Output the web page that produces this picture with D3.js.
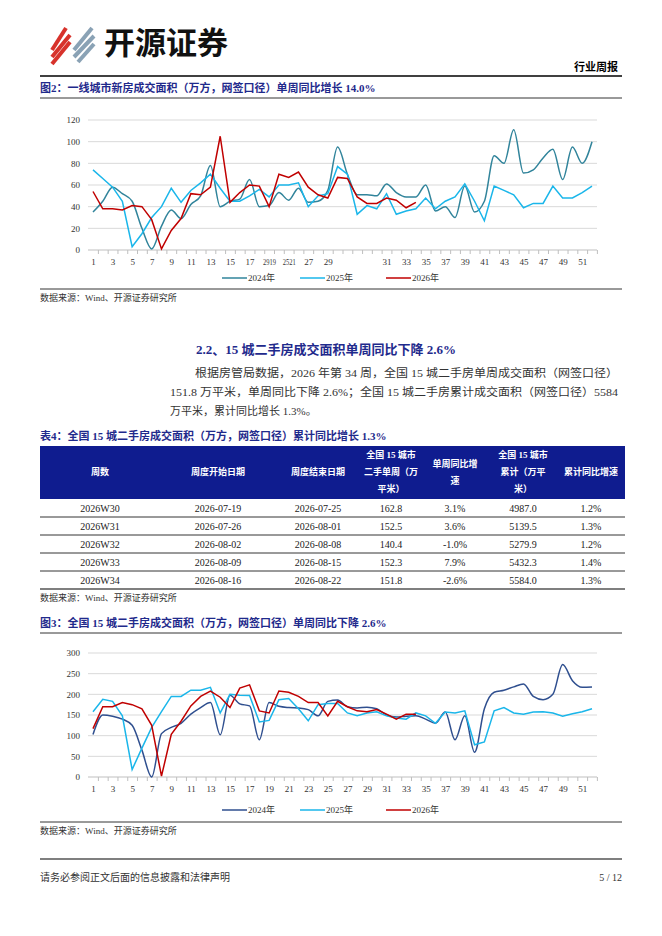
<!DOCTYPE HTML>
<html lang="zh">
<head>
<meta charset="utf-8" />
<title>行业周报</title>
<style>
  body { margin: 0; background: #fff; }
  text { font-family: "Liberation Serif", "Noto Sans CJK SC", serif; }
</style>
</head>
<body>
<div id="page"></div>
<script src="https://d3js.org/d3.v7.min.js"></script>
<script>
// ---- data ----
const weeks = d3.range(1, 53);
const xLabels1 = {1:"1",3:"3",5:"5",7:"7",9:"9",11:"11",13:"13",15:"15",17:"17",19:"2919",21:"2521",23:"27",25:"29",
  31:"31",33:"33",35:"35",37:"37",39:"39",41:"41",43:"43",45:"45",47:"47",49:"49",51:"51"};
const xLabels2 = {};
weeks.forEach(w => { if (w % 2 === 1) xLabels2[w] = String(w); });

const newHome2024 = [35,45,58,52,45,20,1,22,37,29,42,50,78,40,45,47,65,40,41,53,46,57,44,45,55,95,70,51,51,50,61,53,49,49,60,36,40,30,59,35,45,87,80,111,71,74,85,93,65,95,80,100];
const newHome2025 = [74,66,58,45,3,15,30,40,57,44,55,62,70,57,45,45,50,56,49,60,60,62,40,50,52,77,70,33,41,38,52,33,36,38,48,38,45,49,61,45,27,59,55,51,39,43,43,59,48,48,53,59];
const newHome2026 = [54,38,38,37,41,40,28,1,18,29,52,51,58,105,44,53,60,59,40,70,67,72,58,51,48,67,66,49,43,43,48,46,39,44];
const newTicks = [0,20,40,60,80,100,120];

const used2024 = [103,150,147,140,125,65,0,105,120,130,152,168,180,102,198,177,172,90,180,171,168,167,163,148,183,186,170,167,169,165,150,145,147,148,140,130,157,90,148,60,165,205,210,218,225,195,187,200,272,233,217,218];
const used2025 = [158,188,183,148,18,70,120,158,195,195,210,210,217,155,200,198,197,133,137,187,190,165,136,175,178,178,155,148,155,158,148,143,140,155,148,130,157,155,160,78,85,160,168,155,152,157,158,155,147,153,158,165];
const used2026 = [117,170,170,180,175,165,125,2,103,135,172,195,208,193,168,215,223,160,155,208,205,195,180,180,148,183,170,160,158,163,152,140,152,152];
const usedTicks = [0,50,100,150,200,250,300];

const tableHead = [["周数"],["周度开始日期"],["周度结束日期"],["全国 15 城市","二手单周（万","平米）"],["单周同比增","速"],["全国 15 城市","累计（万平","米）"],["累计同比增速"]];
const tableRows = [
  ["2026W30","2026-07-19","2026-07-25","162.8","3.1%","4987.0","1.2%"],
  ["2026W31","2026-07-26","2026-08-01","152.5","3.6%","5139.5","1.3%"],
  ["2026W32","2026-08-02","2026-08-08","140.4","-1.0%","5279.9","1.2%"],
  ["2026W33","2026-08-09","2026-08-15","152.3","7.9%","5432.3","1.4%"],
  ["2026W34","2026-08-16","2026-08-22","151.8","-2.6%","5584.0","1.3%"]
];

const titleBlue = "#1f2a8c";
const svg = d3.select("#page").append("svg").attr("width", 662).attr("height", 936);

// ---- header ----
const logo = svg.append("g");
[[52,50,66,28],[52,57,70,35],[52,64,70,42]].forEach((d, i) => {
  logo.append("path").attr("d", `M${d[0]},${d[1]} L${d[2]},${d[3]}`).attr("stroke", "#d7322b").attr("stroke-width", 4);
});
[[74,50,92,28],[74,57,94,36],[78,62,94,44]].forEach(d => {
  logo.append("path").attr("d", `M${d[0]},${d[1]} L${d[2]},${d[3]}`).attr("stroke", "#8aa2b5").attr("stroke-width", 4);
});
svg.append("text").attr("x", 104).attr("y", 54).attr("font-size", 31).attr("font-weight", "bold")
  .style("font-family", "Noto Sans CJK SC").attr("fill", "#111").text("开源证券");
svg.append("text").attr("x", 618).attr("y", 71).attr("text-anchor", "end").attr("font-size", 11).attr("font-weight", "bold").text("行业周报");
svg.append("line").attr("x1", 40).attr("x2", 622).attr("y1", 76).attr("y2", 76).attr("stroke", "#000").attr("stroke-width", 1.5);

function figTitle(y, txt) {
  svg.append("text").attr("x", 40).attr("y", y).attr("font-size", 11).attr("font-weight", "bold").attr("fill", titleBlue).text(txt);
}
function hr(y, w) {
  svg.append("line").attr("x1", 40).attr("x2", 622).attr("y1", y).attr("y2", y).attr("stroke", "#000").attr("stroke-width", w);
}
function source(y) {
  svg.append("text").attr("x", 40).attr("y", y).attr("font-size", 9).attr("fill", "#333").text("数据来源：Wind、开源证券研究所");
}

// ---- line chart ----
function lineChart(opts) {
  const x = d3.scalePoint().domain(weeks).range([93, 592]);
  const y = d3.scaleLinear().domain([0, d3.max(opts.ticks)]).range([opts.y0, opts.y1]);
  const g = svg.append("g");
  g.selectAll(".grid").data(opts.ticks.slice(1)).join("line")
    .attr("x1", 88).attr("x2", 597).attr("y1", d => y(d)).attr("y2", d => y(d)).attr("stroke", "#d9d9d9");
  g.append("g").attr("transform", `translate(80,0)`)
    .call(d3.axisLeft(y).tickValues(opts.ticks).tickSize(0).tickPadding(0))
    .call(a => a.select(".domain").remove())
    .selectAll("text").attr("font-size", 9).attr("fill", "#333");
  const xa = g.append("g").attr("transform", `translate(0,${opts.y0})`)
    .call(d3.axisBottom(x).tickSize(4).tickPadding(5).tickFormat(d => opts.labels[d] || ""));
  xa.select(".domain").attr("d", "M88,0H597").attr("stroke", "#bfbfbf");
  xa.selectAll(".tick line").attr("stroke", "#bfbfbf").attr("transform", `translate(${x.step() / 2},0)`);
  xa.selectAll("text").attr("font-size", 9).attr("fill", "#333")
    .each(function (d) { if ((opts.labels[d] || "").length === 4) d3.select(this).attr("textLength", 13).attr("lengthAdjust", "spacingAndGlyphs"); });
  opts.series.forEach(s => {
    const line = d3.line().x((d, i) => x(weeks[i])).y(d => y(d)).curve(s.smooth ? d3.curveMonotoneX : d3.curveLinear);
    g.append("path").datum(s.values).attr("d", line).attr("fill", "none").attr("stroke", s.color).attr("stroke-width", 1.5);
  });
  const lx = [222, 300, 386];
  opts.series.forEach((s, i) => {
    g.append("line").attr("x1", lx[i]).attr("x2", lx[i] + 25).attr("y1", opts.legendY - 3).attr("y2", opts.legendY - 3).attr("stroke", s.color).attr("stroke-width", 1.5);
    g.append("text").attr("x", lx[i] + 26).attr("y", opts.legendY).attr("font-size", 9).attr("fill", "#333").text(s.name);
  });
}

figTitle(92, "图2：一线城市新房成交面积（万方，网签口径）单周同比增长 14.0%");
hr(98, 0.8);
lineChart({ y0: 250, y1: 120, ticks: newTicks, labels: xLabels1, legendY: 281,
  series: [
    { name: "2024年", values: newHome2024, color: "#31849b", smooth: true },
    { name: "2025年", values: newHome2025, color: "#1ab6ea" },
    { name: "2026年", values: newHome2026, color: "#c00000" }
  ] });
hr(289, 0.8);
source(301);

// ---- section text ----
svg.append("text").attr("x", 196).attr("y", 354).attr("font-size", 13).attr("font-weight", "bold").attr("fill", titleBlue)
  .text("2.2、15 城二手房成交面积单周同比下降 2.6%");
const para = [
  [195, "根据房管局数据，2026 年第 34 周，全国 15 城二手房单周成交面积（网签口径）", 423],
  [170, "151.8 万平米，单周同比下降 2.6%；全国 15 城二手房累计成交面积（网签口径）5584", 448],
  [170, "万平米，累计同比增长 1.3%。", 0]
];
para.forEach((p, i) => {
  const t = svg.append("text").attr("x", p[0]).attr("y", 377 + i * 19).attr("font-size", 11).attr("fill", "#333").text(p[1]);
  if (p[2]) t.attr("textLength", p[2]).attr("lengthAdjust", "spacingAndGlyphs");
});

// ---- table ----
figTitle(440, "表4：全国 15 城二手房成交面积（万方，网签口径）累计同比增长 1.3%");
const colX = [100, 218, 318, 391, 455, 523, 591];
svg.append("rect").attr("x", 40).attr("y", 446).attr("width", 585).attr("height", 53).attr("fill", "#0f1c8f");
tableHead.forEach((h, c) => {
  const y0 = 475 - (h.length - 1) * 8.5;
  h.forEach((s, k) => svg.append("text").attr("x", colX[c]).attr("y", y0 + k * 17).attr("text-anchor", "middle")
    .attr("font-size", 9).attr("font-weight", "bold").attr("fill", "#fff").text(s));
});
tableRows.forEach((r, i) => {
  const top = 499 + i * 18;
  r.forEach((v, c) => svg.append("text").attr("x", colX[c]).attr("y", top + 13).attr("text-anchor", "middle")
    .attr("font-size", 10).attr("fill", "#222").text(v));
  svg.append("line").attr("x1", 40).attr("x2", 625).attr("y1", top + 18).attr("y2", top + 18)
    .attr("stroke", "#000").attr("stroke-width", i === tableRows.length - 1 ? 1.2 : 0.8);
});
source(601);

// ---- chart 3 ----
figTitle(627, "图3：全国 15 城二手房成交面积（万方，网签口径）单周同比下降 2.6%");
hr(633, 0.8);
lineChart({ y0: 777, y1: 653, ticks: usedTicks, labels: xLabels2, legendY: 813,
  series: [
    { name: "2024年", values: used2024, color: "#2f4f8f", smooth: true },
    { name: "2025年", values: used2025, color: "#1ab6ea" },
    { name: "2026年", values: used2026, color: "#c00000" }
  ] });
hr(822, 0.8);
source(834);

// ---- footer ----
hr(859, 1.2);
svg.append("text").attr("x", 40).attr("y", 881).attr("font-size", 10).attr("fill", "#333").text("请务必参阅正文后面的信息披露和法律声明");
svg.append("text").attr("x", 622).attr("y", 881).attr("text-anchor", "end").attr("font-size", 10).attr("fill", "#333").text("5 / 12");
</script>
</body>
</html>
